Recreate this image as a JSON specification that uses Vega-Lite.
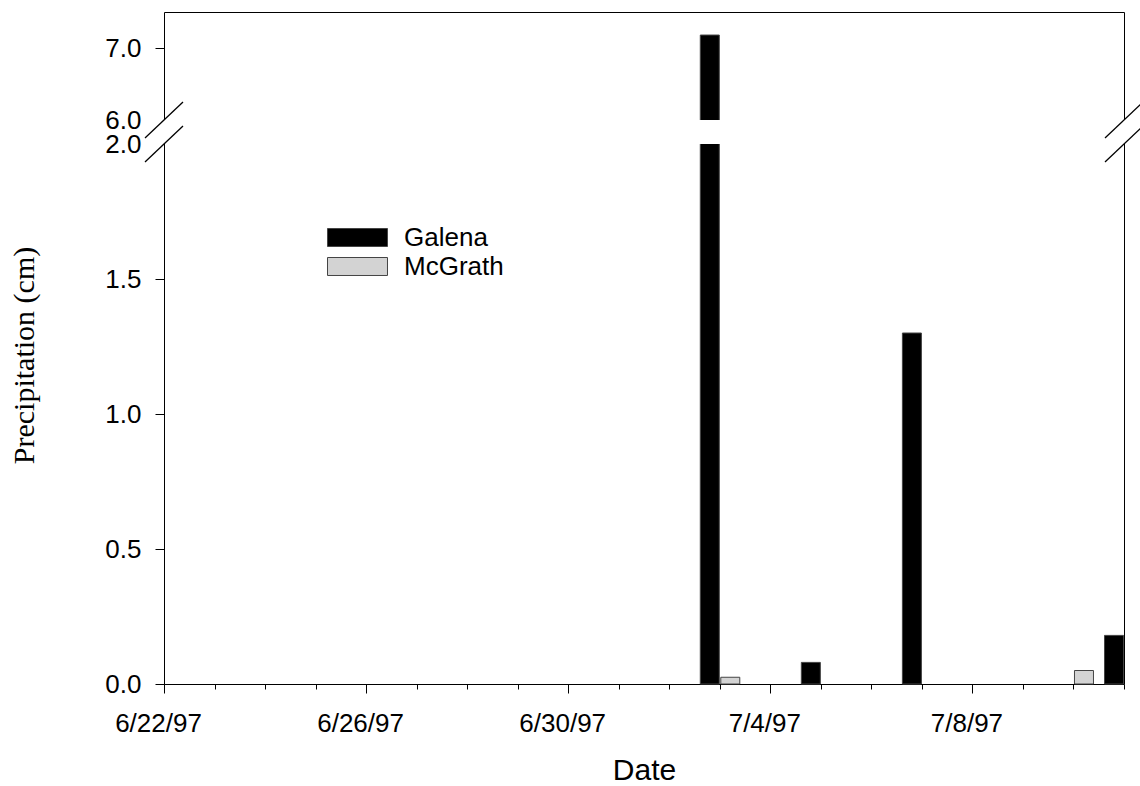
{
  "$schema": "https://vega.github.io/schema/vega-lite/v6.json",
  "width": 960,
  "height": 672,
  "autosize": {"type": "none"},
  "padding": {"left": 164, "top": 12, "right": 16, "bottom": 102},
  "background": "white",
  "config": {
    "view": {"stroke": null},
    "font": "Liberation Sans",
    "axis": {
      "domainColor": "black",
      "domainWidth": 1,
      "tickColor": "black",
      "tickWidth": 1,
      "labelColor": "black",
      "labelFont": "Liberation Sans",
      "labelFontSize": 26,
      "titleColor": "black",
      "grid": false,
      "labelOverlap": false
    }
  },
  "datasets": {
    "precip": [
      {"date": "1997-07-03", "station": "Galena", "precip": 7.18},
      {"date": "1997-07-03", "station": "McGrath", "precip": 0.025},
      {"date": "1997-07-05", "station": "Galena", "precip": 0.08},
      {"date": "1997-07-07", "station": "Galena", "precip": 1.30},
      {"date": "1997-07-10", "station": "McGrath", "precip": 0.05},
      {"date": "1997-07-11", "station": "Galena", "precip": 0.18}
    ],
    "gap": [
      {"start": "1997-06-22", "end": "1997-07-11", "lo": 2, "hi": 6}
    ],
    "breaks": [
      {"d": "1997-06-22", "v": 2},
      {"d": "1997-06-22", "v": 6},
      {"d": "1997-07-11", "v": 2},
      {"d": "1997-07-11", "v": 6}
    ]
  },
  "resolve": {"axis": {"x": "independent", "y": "independent"}},
  "layer": [
    {
      "data": {"name": "precip"},
      "transform": [{"filter": "datum.station === 'Galena'"}],
      "mark": {"type": "bar", "width": 19, "xOffset": -10, "stroke": "#444444", "strokeWidth": 1},
      "encoding": {
        "x": {
          "field": "date",
          "type": "temporal",
          "scale": {
            "type": "utc",
            "nice": false,
            "padding": 0,
            "domain": [
              {"year": 1997, "month": 6, "date": 22, "utc": true},
              {"year": 1997, "month": 7, "date": 11, "utc": true}
            ]
          },
          "axis": {
            "orient": "bottom",
            "values": [
              {"year": 1997, "month": 6, "date": 22, "utc": true},
              {"year": 1997, "month": 6, "date": 26, "utc": true},
              {"year": 1997, "month": 6, "date": 30, "utc": true},
              {"year": 1997, "month": 7, "date": 4, "utc": true},
              {"year": 1997, "month": 7, "date": 8, "utc": true}
            ],
            "format": "%-m/%-d/%y",
            "tickSize": 9,
            "labelPadding": 38,
            "labelBaseline": "alphabetic",
            "labelOffset": -6,
            "labelFlush": false,
            "title": "Date",
            "titleFont": "Liberation Sans",
            "titleFontSize": 30,
            "titleFontWeight": "normal",
            "titleY": 95,
            "titleBaseline": "alphabetic"
          }
        },
        "y": {
          "field": "precip",
          "type": "quantitative",
          "scale": {"domain": [0, 2, 6, 7.5], "range": [672, 132, 108, 0], "zero": false, "nice": false},
          "axis": {
            "orient": "left",
            "values": [0, 0.5, 1, 1.5, 2, 6, 7],
            "format": ".1f",
            "tickSize": 9,
            "labelPadding": 14,
            "tickColor": {"condition": {"test": "datum.value == 2 || datum.value == 6", "value": "transparent"}, "value": "black"},
            "title": "Precipitation (cm)",
            "titleFont": "Liberation Serif",
            "titleFontSize": 30,
            "titleFontWeight": "normal",
            "titleAngle": 270,
            "titleAlign": "center",
            "titleBaseline": "alphabetic",
            "titleX": -131,
            "titleY": 343
          }
        },
        "color": {
          "field": "station",
          "type": "nominal",
          "scale": {"domain": ["Galena", "McGrath"], "range": ["#000000", "#d3d3d3"]},
          "legend": {
            "orient": "none",
            "legendX": 177.5,
            "legendY": 209.5,
            "title": null,
            "symbolType": "M-1.935,-0.58H1.935V0.58H-1.935Z",
            "symbolSize": 961,
            "symbolStrokeColor": "black",
            "symbolStrokeWidth": 1,
            "labelFont": "Liberation Sans",
            "labelFontSize": 26,
            "labelColor": "black",
            "labelOffset": 30.5,
            "rowPadding": 0,
            "padding": 0
          }
        }
      }
    },
    {
      "data": {"name": "precip"},
      "transform": [{"filter": "datum.station === 'McGrath'"}],
      "mark": {"type": "bar", "width": 19, "xOffset": 10.5, "stroke": "#444444", "strokeWidth": 1},
      "encoding": {
        "x": {
          "field": "date",
          "type": "temporal",
          "axis": {
            "orient": "bottom",
            "values": [
              {"year": 1997, "month": 6, "date": 22, "utc": true},
              {"year": 1997, "month": 6, "date": 23, "utc": true},
              {"year": 1997, "month": 6, "date": 24, "utc": true},
              {"year": 1997, "month": 6, "date": 25, "utc": true},
              {"year": 1997, "month": 6, "date": 26, "utc": true},
              {"year": 1997, "month": 6, "date": 27, "utc": true},
              {"year": 1997, "month": 6, "date": 28, "utc": true},
              {"year": 1997, "month": 6, "date": 29, "utc": true},
              {"year": 1997, "month": 6, "date": 30, "utc": true},
              {"year": 1997, "month": 7, "date": 1, "utc": true},
              {"year": 1997, "month": 7, "date": 2, "utc": true},
              {"year": 1997, "month": 7, "date": 3, "utc": true},
              {"year": 1997, "month": 7, "date": 4, "utc": true},
              {"year": 1997, "month": 7, "date": 5, "utc": true},
              {"year": 1997, "month": 7, "date": 6, "utc": true},
              {"year": 1997, "month": 7, "date": 7, "utc": true},
              {"year": 1997, "month": 7, "date": 8, "utc": true},
              {"year": 1997, "month": 7, "date": 9, "utc": true},
              {"year": 1997, "month": 7, "date": 10, "utc": true},
              {"year": 1997, "month": 7, "date": 11, "utc": true}
            ],
            "tickSize": 5,
            "labels": false,
            "domain": false,
            "title": null
          }
        },
        "y": {"field": "precip", "type": "quantitative", "axis": null},
        "color": {"field": "station", "type": "nominal"}
      }
    },
    {
      "data": {"name": "gap"},
      "mark": {"type": "rect", "fill": "white", "stroke": null, "opacity": 1, "xOffset": -4, "x2Offset": 4, "clip": false},
      "encoding": {
        "x": {
          "field": "start",
          "type": "temporal",
          "axis": {"orient": "top", "domain": true, "ticks": false, "labels": false, "title": null}
        },
        "x2": {"field": "end"},
        "y": {
          "field": "lo",
          "type": "quantitative",
          "axis": {"orient": "right", "domain": true, "ticks": false, "labels": false, "title": null}
        },
        "y2": {"field": "hi"}
      }
    },
    {
      "data": {"name": "breaks"},
      "mark": {"type": "point", "shape": "M-1,0.95L1,-0.95", "size": 1444, "filled": false, "stroke": "black", "strokeWidth": 1.3, "opacity": 1},
      "encoding": {
        "x": {"field": "d", "type": "temporal", "axis": null},
        "y": {"field": "v", "type": "quantitative", "axis": null}
      }
    }
  ]
}
